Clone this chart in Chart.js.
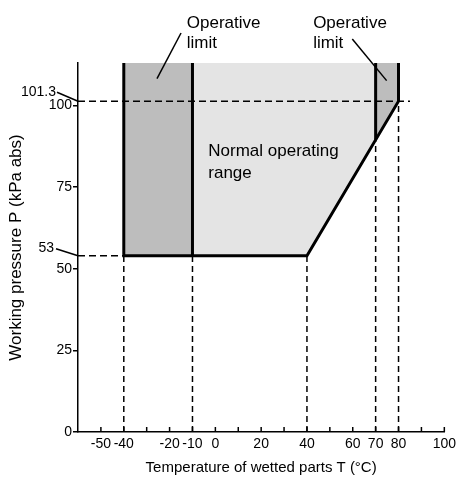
<!DOCTYPE html>
<html>
<head>
<meta charset="utf-8">
<script src="https://cdn.jsdelivr.net/npm/chart.js@4.4.0/dist/chart.umd.min.js"></script>
<style>
  body { margin: 0; background: #fff; }
</style>
</head>
<body>
<canvas id="myChart" width="460" height="494"></canvas>
<script>
var FONT = "'Liberation Sans', Arial, sans-serif";

// axis ticks
var xTickMarks = [-50, -40, -30, -20, -10, 0, 10, 20, 30, 40, 50, 60, 70, 80, 90, 100];
var xTickLabels = [-50, -40, -20, -10, 0, 20, 40, 60, 70, 80, 100];
var yTicks = [0, 25, 50, 75, 100];

// operating envelope (T in degC, P in kPa abs)
var outlineT = [-40, -40, 40, 80, 80];
var outlineP = [113, 54, 54, 101.3, 113];
var leftDividerT = [-10, -10];
var leftDividerP = [54, 113];
var rightDividerT = [70, 70];
var rightDividerP = [89.5, 113];

// shaded regions
var normalT = [-10, 40, 80, 80, -10];
var normalP = [54, 54, 101.3, 113, 113];
var coldLimitT = [-40, -10, -10, -40];
var coldLimitP = [54, 54, 113, 113];
var hotLimitT = [70, 80, 80, 70];
var hotLimitP = [89.5, 101.3, 113, 113];

// dashed guide lines
var guideT = [-40, -10, 40, 70, 80];
var guideTopP = [54, 54, 54, 89.5, 101.3];
var atmT = [-60, 85];
var atmP = [101.3, 101.3];
var minT = [-60, -40];
var minP = [54, 54];

function pts(xs, ys) {
    return xs.map(function (x, i) { return { x: x, y: ys[i] }; });
}

function guidePts() {
    var out = [];
    guideT.forEach(function (t, i) {
        out.push({ x: t, y: 0 }, { x: t, y: guideTopP[i] }, { x: t, y: null });
    });
    return out;
}

var annotations = {
    id: 'annotations',
    afterDatasetsDraw: function (chart) {
        var ctx = chart.ctx;
        var xs = chart.scales.x, ys = chart.scales.y;
        var top = chart.chartArea.top, left = chart.chartArea.left, bottom = chart.chartArea.bottom;
        ctx.save();
        ctx.fillStyle = '#000';
        ctx.strokeStyle = '#000';

        // inward x ticks
        ctx.lineWidth = 1.5;
        xTickMarks.forEach(function (v) {
            var px = xs.getPixelForValue(v);
            ctx.beginPath();
            ctx.moveTo(px, bottom);
            ctx.lineTo(px, bottom - 5);
            ctx.stroke();
        });

        ctx.font = '17px ' + FONT;
        ctx.textAlign = 'left';
        ctx.textBaseline = 'alphabetic';

        // left operative limit
        var lx = xs.getPixelForValue(-12.5);
        ctx.fillText('Operative', lx, top - 35);
        ctx.fillText('limit', lx, top - 15);
        ctx.lineWidth = 1.5;
        ctx.beginPath();
        ctx.moveTo(xs.getPixelForValue(-15), top - 30);
        ctx.lineTo(xs.getPixelForValue(-25.5), ys.getPixelForValue(108.2));
        ctx.stroke();

        // right operative limit
        var rx = xs.getPixelForValue(42.7);
        ctx.fillText('Operative', rx, top - 35);
        ctx.fillText('limit', rx, top - 15);
        ctx.beginPath();
        ctx.moveTo(xs.getPixelForValue(59.8), top - 24);
        ctx.lineTo(xs.getPixelForValue(74.8), ys.getPixelForValue(107.6));
        ctx.stroke();

        // normal range
        var nx = xs.getPixelForValue(-3.1);
        ctx.fillText('Normal operating', nx, ys.getPixelForValue(84.5));
        ctx.fillText('range', nx, ys.getPixelForValue(77.7));

        // pressure callouts
        ctx.font = '14px ' + FONT;
        ctx.textAlign = 'right';
        ctx.fillText('101.3', left - 22, ys.getPixelForValue(101.3) - 5);
        ctx.beginPath();
        ctx.moveTo(left - 21, ys.getPixelForValue(101.3) - 9);
        ctx.lineTo(left, ys.getPixelForValue(101.3));
        ctx.stroke();
        ctx.fillText('53', left - 24, ys.getPixelForValue(54) - 4);
        ctx.beginPath();
        ctx.moveTo(left - 22, ys.getPixelForValue(54) - 7);
        ctx.lineTo(left, ys.getPixelForValue(54));
        ctx.stroke();
        ctx.restore();
    }
};

var thin = { pointRadius: 0, showLine: true, fill: false };

var ctx = document.getElementById("myChart").getContext('2d');
var myChart = new Chart(ctx, {
    type: 'scatter',
    data: {
        datasets: [
            Object.assign({ data: pts(outlineT, outlineP), borderColor: '#000', borderWidth: 3 }, thin),
            Object.assign({ data: pts(leftDividerT, leftDividerP), borderColor: '#000', borderWidth: 3 }, thin),
            Object.assign({ data: pts(rightDividerT, rightDividerP), borderColor: '#000', borderWidth: 3 }, thin),
            Object.assign({ data: guidePts(), borderColor: '#000', borderWidth: 1.5, borderDash: [6, 4], spanGaps: false }, thin),
            Object.assign({ data: pts(atmT, atmP), borderColor: '#000', borderWidth: 1.5, borderDash: [7, 4] }, thin),
            Object.assign({ data: pts(minT, minP), borderColor: '#000', borderWidth: 1.5, borderDash: [7, 4] }, thin),
            { data: pts(coldLimitT, coldLimitP), showLine: true, pointRadius: 0, borderWidth: 0, fill: 'shape', backgroundColor: '#bdbdbd' },
            { data: pts(hotLimitT, hotLimitP), showLine: true, pointRadius: 0, borderWidth: 0, fill: 'shape', backgroundColor: '#bdbdbd' },
            { data: pts(normalT, normalP), showLine: true, pointRadius: 0, borderWidth: 0, fill: 'shape', backgroundColor: '#e4e4e4' }
        ]
    },
    options: {
        responsive: false,
        animation: false,
        devicePixelRatio: 1,
        layout: { padding: { top: 63, right: 11, left: 0, bottom: 0 } },
        plugins: { legend: { display: false }, tooltip: { enabled: false } },
        scales: {
            x: {
                type: 'linear',
                min: -60,
                max: 100,
                afterBuildTicks: function (s) { s.ticks = xTickMarks.map(function (v) { return { value: v }; }); },
                afterFit: function (s) { s.height = 62; },
                ticks: {
                    autoSkip: false,
                    maxRotation: 0,
                    padding: 4,
                    color: '#000',
                    font: { family: FONT, size: 14 },
                    callback: function (v) { return xTickLabels.indexOf(v) >= 0 ? String(v) : ''; }
                },
                grid: { drawOnChartArea: false, drawTicks: false },
                border: { color: '#000', width: 1.5 },
                title: {
                    display: true,
                    text: 'Temperature of wetted parts T (°C)',
                    color: '#000',
                    font: { family: FONT, size: 15 },
                    padding: { top: 0, bottom: 17 }
                }
            },
            y: {
                min: 0,
                max: 113,
                afterBuildTicks: function (s) { s.ticks = yTicks.map(function (v) { return { value: v }; }); },
                afterFit: function (s) { s.width = 78; },
                ticks: {
                    padding: 1,
                    color: '#000',
                    font: { family: FONT, size: 14 }
                },
                grid: { drawOnChartArea: false, tickLength: 5, color: '#000', lineWidth: 1.5 },
                border: { color: '#000', width: 1.5 },
                title: {
                    display: true,
                    text: 'Working pressure P (kPa abs)',
                    color: '#000',
                    font: { family: FONT, size: 17 },
                    padding: { top: 6, bottom: 0 }
                }
            }
        }
    },
    plugins: [annotations]
});
</script>
</body>
</html>
